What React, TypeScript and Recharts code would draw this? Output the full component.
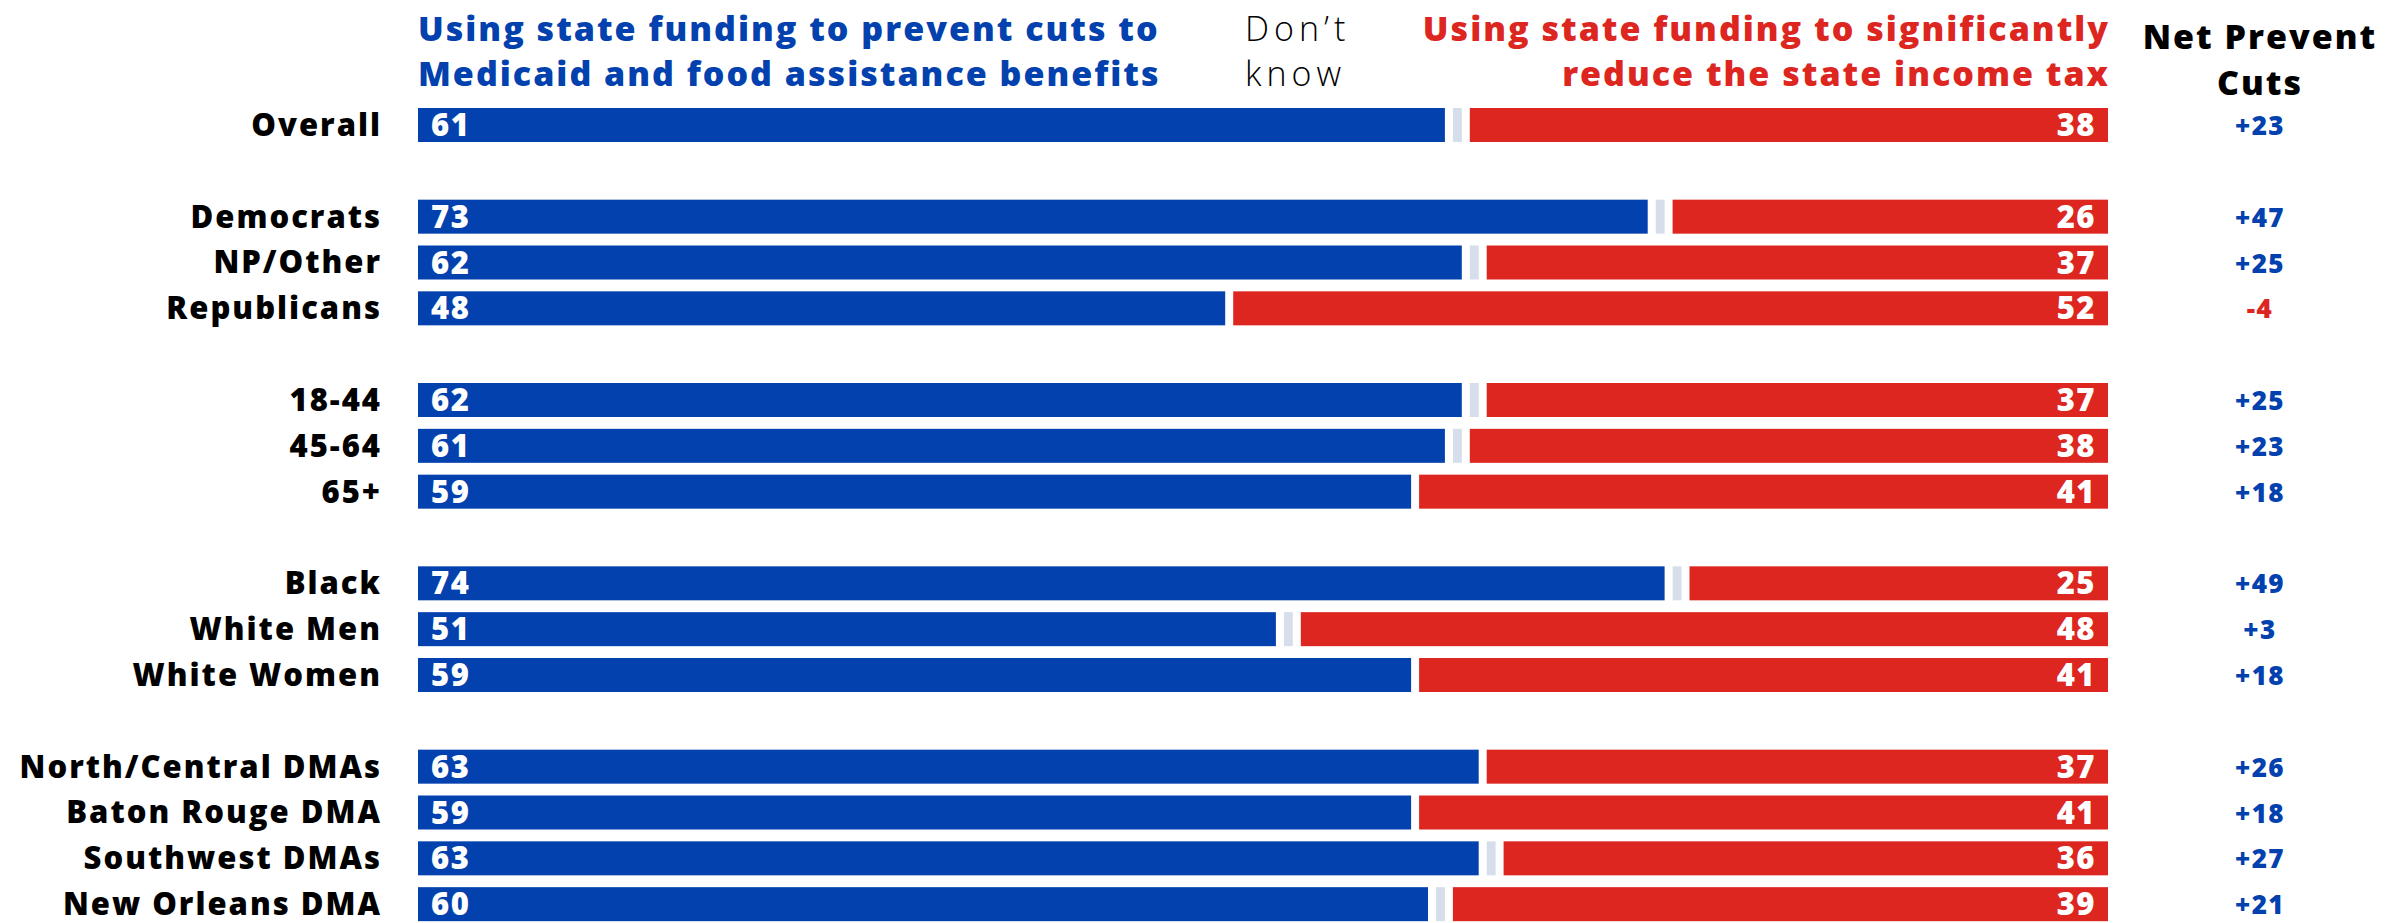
import React from 'react';
import { BarChart, Bar, XAxis, YAxis, LabelList } from 'recharts';

const categories = [
  'Overall', '', 'Democrats', 'NP/Other', 'Republicans', '',
  '18-44', '45-64', '65+', '',
  'Black', 'White Men', 'White Women', '',
  'North/Central DMAs', 'Baton Rouge DMA', 'Southwest DMAs', 'New Orleans DMA',
];
const preventCuts = [61, null, 73, 62, 48, null, 62, 61, 59, null, 74, 51, 59, null, 63, 59, 63, 60];
const dontKnow = [1, null, 1, 1, 0, null, 1, 1, 0, null, 1, 1, 0, null, 0, 0, 1, 1];
const reduceTax = [38, null, 26, 37, 52, null, 37, 38, 41, null, 25, 48, 41, null, 37, 41, 36, 39];
const netPrevent = ['+23', '', '+47', '+25', '-4', '', '+25', '+23', '+18', '', '+49', '+3', '+18', '', '+26', '+18', '+27', '+21'];

const BLUE = '#0341AE';
const RED = '#DC261F';
const GRAY = '#D6DEEB';
const FONT = "'Open Sans', 'Noto Sans', sans-serif";
const W = 800;
const LS = 2;

const data = categories.map((c, i) => ({
  key: `r${i}`,
  label: c,
  prevent: preventCuts[i],
  dk: dontKnow[i],
  tax: reduceTax[i],
}));

const GAP = 4;

const makeShape = (cutLeft: number, cutRight: number) => (props: any) => {
  const { x, y, width, height, fill } = props;
  if (width == null || width <= 0) return <g />;
  const w = width - cutLeft - cutRight;
  if (w <= 0) return <g />;
  return <rect x={x + cutLeft} y={y} width={w} height={height} fill={fill} />;
};

const blueShape = makeShape(0, GAP);
const grayShape = makeShape(GAP, GAP);
const redShape = makeShape(GAP, 0);

const BlueValue = (props: any) => {
  const { x, y, height, value } = props;
  if (value == null) return null;
  return (
    <text x={x + 13} y={y + height / 2} dy="0.36em" fill="#fff" fontFamily={FONT}
      fontWeight={W} fontSize={31} letterSpacing={1.5} textAnchor="start">{value}</text>
  );
};

const RedValue = (props: any) => {
  const { x, y, width, height, value, index } = props;
  if (value == null) return null;
  const net = netPrevent[index];
  return (
    <g>
      <text x={x + width - 12} y={y + height / 2} dy="0.36em" fill="#fff" fontFamily={FONT}
        fontWeight={W} fontSize={31} letterSpacing={1.5} textAnchor="end">{value}</text>
      <text x={x + width + 152} y={y + height / 2 + 10} fill={net.startsWith('-') ? RED : BLUE}
        fontFamily={FONT} fontWeight={W} fontSize={26} letterSpacing={1.5} textAnchor="middle">{net}</text>
    </g>
  );
};

export default function App() {
  return (
    <div style={{ position: 'relative', width: 2404, height: 923, background: '#fff' }}>
      <style>{`html,body{margin:0;padding:0;background:#fff;overflow:hidden;}`}</style>
      <BarChart
        width={2404}
        height={923}
        data={data}
        layout="vertical"
        margin={{ top: 102, right: 296, bottom: -4, left: 0 }}
        barSize={34}
      >
        <XAxis type="number" domain={[0, 100]} hide />
        <YAxis
          type="category"
          dataKey="key"
          width={418}
          axisLine={false}
          tickLine={false}
          tickMargin={30}
          interval={0}
          tickFormatter={(_v: any, i: number) => categories[i]}
          tick={{ fontSize: 31, fontWeight: W, fill: '#000', fontFamily: FONT, letterSpacing: LS }}
        />
        <Bar dataKey="prevent" stackId="s" fill={BLUE} shape={blueShape} isAnimationActive={false}>
          <LabelList dataKey="prevent" content={BlueValue} />
        </Bar>
        <Bar dataKey="dk" stackId="s" fill={GRAY} shape={grayShape} isAnimationActive={false} />
        <Bar dataKey="tax" stackId="s" fill={RED} shape={redShape} isAnimationActive={false}>
          <LabelList dataKey="tax" content={RedValue} />
        </Bar>
      </BarChart>
      <svg width={2404} height={923} style={{ position: 'absolute', left: 0, top: 0, pointerEvents: 'none' }}>
        <g fontFamily={FONT} fontWeight={W} fontSize={34} letterSpacing={LS}>
          <text x={418} y={41} fill={BLUE}>Using state funding to prevent cuts to</text>
          <text x={418} y={86} fill={BLUE}>Medicaid and food assistance benefits</text>
          <text x={2110} y={41} fill={RED} textAnchor="end">Using state funding to significantly</text>
          <text x={2110} y={86} fill={RED} textAnchor="end">reduce the state income tax</text>
          <text x={2260} y={49} fill="#000" textAnchor="middle">Net Prevent</text>
          <text x={2260} y={95} fill="#000" textAnchor="middle">Cuts</text>
        </g>
        <g fontFamily={FONT} fontWeight={300} fontSize={34} fill="#000" letterSpacing={5}>
          <text x={1245} y={41}>Don’t</text>
          <text x={1245} y={86}>know</text>
        </g>
      </svg>
    </div>
  );
}
